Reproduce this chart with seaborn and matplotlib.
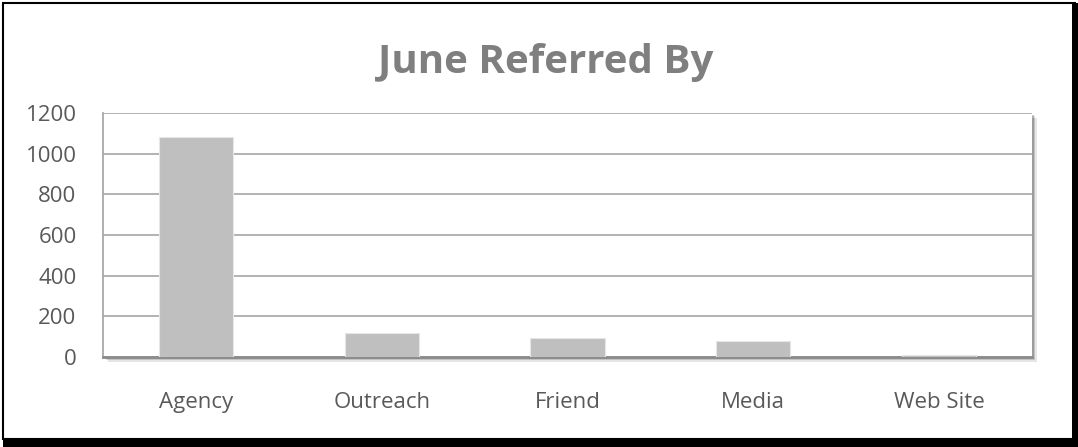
import matplotlib
matplotlib.use("Agg")
import matplotlib.pyplot as plt
import matplotlib.patches as mpatches
import seaborn as sns
import pandas as pd

# values
categories = ["Agency", "Outreach", "Friend", "Media", "Web Site"]
counts = [1083, 120, 95, 77, 8]
y_ticks = [0, 200, 400, 600, 800, 1000, 1200]

sns.set_theme(style="white")
plt.rcParams["font.family"] = ["Open Sans", "DejaVu Sans"]

df = pd.DataFrame({"source": categories, "count": counts})

fig = plt.figure(figsize=(10.78, 4.47), dpi=100)
ax = fig.add_axes([103 / 1078, 1 - 357 / 447, (1032 - 103) / 1078, (357 - 113) / 447])

# soft drop shadow behind the plot area
for i, a in enumerate([0.10, 0.14, 0.2]):
    off = (3 - i) * 1.5
    fig.patches.append(mpatches.Rectangle(
        ((103 + off) / 1078, (447 - 357 - off) / 447), (1032 - 103) / 1078, (357 - 113) / 447,
        transform=fig.transFigure, facecolor="black", alpha=a, edgecolor="none", zorder=0))
ax.set_zorder(1)
ax.set_facecolor("white")

sns.barplot(data=df, x="source", y="count", color="#bfbfbf", width=0.4,
            saturation=1, ax=ax, edgecolor="#e6e6e6", linewidth=0.8, zorder=3)

ax.set_ylim(0, 1200)
ax.set_xlim(-0.5, len(categories) - 0.5)
ax.set_yticks(y_ticks)
ax.yaxis.grid(True, color="#a6a6a6", linewidth=1.2)
ax.set_axisbelow(True)
for side in ["top", "right"]:
    ax.spines[side].set_visible(False)
ax.spines["left"].set_color("#a6a6a6")
ax.spines["bottom"].set_color("#8c8c8c")
ax.spines["bottom"].set_linewidth(2)
ax.tick_params(axis="y", length=0, pad=19, labelsize=16, labelcolor="#595959")
ax.tick_params(axis="x", length=0, pad=25, labelsize=16, labelcolor="#595959")
ax.set_xlabel("")
ax.set_ylabel("")

fig.text(546 / 1078, 1 - 73 / 447, "June Referred By", ha="center", va="baseline",
         fontsize=29, fontweight="bold", color="#7f7f7f")

# outer frame with a heavier bottom/right edge
fig.patches.append(mpatches.Rectangle((3 / 1078, 8 / 447), 1072 / 1078, 436 / 447,
                   transform=fig.transFigure, fill=False, edgecolor="black", linewidth=1.5, zorder=5))
fig.patches.append(mpatches.Rectangle((3 / 1078, 0), 1075 / 1078, 8 / 447,
                   transform=fig.transFigure, facecolor="black", edgecolor="none", zorder=5))
fig.patches.append(mpatches.Rectangle((1072 / 1078, 0), 6 / 1078, 444 / 447,
                   transform=fig.transFigure, facecolor="black", edgecolor="none", zorder=5))

fig.savefig("out.png", dpi=100)
